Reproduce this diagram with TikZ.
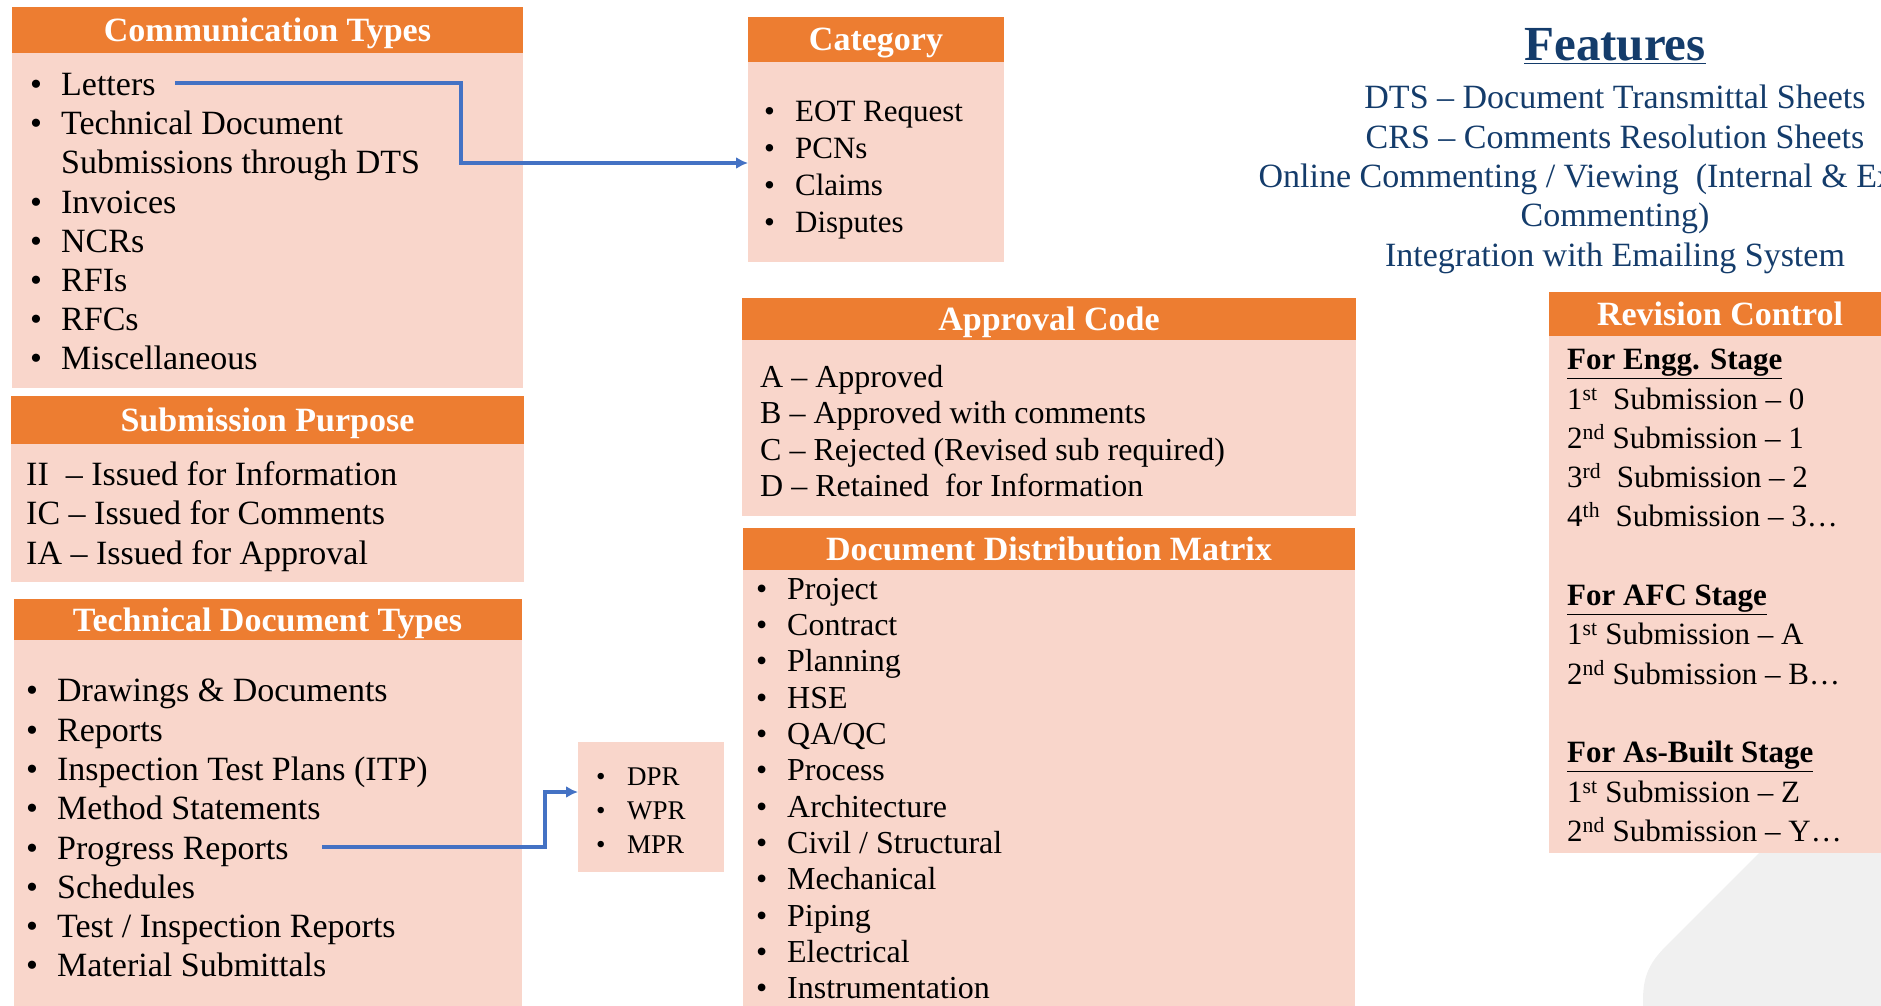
\documentclass[tikz,border=0pt]{standalone}
\usepackage{fontspec}
\setmainfont{Liberation Serif}
\usetikzlibrary{positioning, arrows.meta}

\definecolor{hdrorange}{HTML}{ED7D31}
\definecolor{bodypink}{HTML}{F9D6CB}
\definecolor{linkblue}{HTML}{4472C4}
\definecolor{featblue}{HTML}{143C6B}
\definecolor{bggrey}{HTML}{F0F0F0}

\newcommand{\itm}{\makebox[31pt][l]{\textbullet}}
\newcommand{\noitm}{\makebox[31pt][l]{}}

\begin{document}
\begin{tikzpicture}[
    x=1pt, y=-1pt,
    hdr/.style={rectangle, fill=hdrorange, text=white, inner sep=0pt, outer sep=0pt, text height=23pt, text depth=0pt, font=\fontsize{34}{40}\selectfont\bfseries},
    panel/.style={rectangle, fill=bodypink, inner sep=0pt, outer sep=0pt},
    list/.style={anchor=north west, align=left, inner sep=0pt, execute at begin node={\rule{0pt}{28pt}}},
    link/.style={-{Latex[length=12pt,width=12pt]}, draw=linkblue, line width=3.5pt}
]
    \clip (0,0) rectangle (1881,1006);

    % background shape
    \fill[bggrey] (1643,1010) -- (1643,1000) .. controls (1643,975) and (1650,962) .. (1667,945) -- (1800,812) -- (1890,812) -- (1890,1010) -- cycle;

    % Left column
    \node[hdr, minimum width=511pt, minimum height=46pt, anchor=north west] (ctHead) at (12,7) {Communication Types};
    \node[panel, minimum width=511pt, minimum height=335pt, below=0pt of ctHead] (ctBody) {};
    \node[list, font=\fontsize{34}{39.2}\selectfont] (ctList) at (30,73) {\itm Letters\\ \itm Technical Document\\ \noitm Submissions through DTS\\ \itm Invoices\\ \itm NCRs\\ \itm RFIs\\ \itm RFCs\\ \itm Miscellaneous};

    \node[hdr, minimum width=513pt, minimum height=48pt, below=8pt of ctBody] (spHead) {Submission Purpose};
    \node[panel, minimum width=513pt, minimum height=138pt, below=0pt of spHead] (spBody) {};
    \node[list, font=\fontsize{34}{39.5}\selectfont] (spList) at (26,461) {II\ \ – Issued for Information\\ IC – Issued for Comments\\ IA – Issued for Approval};

    \node[hdr, minimum width=508pt, minimum height=41pt, below=17pt of spBody] (tdHead) {Technical Document Types};
    \node[panel, minimum width=508pt, minimum height=370pt, below=0pt of tdHead] (tdBody) {};
    \node[list, font=\fontsize{34}{39.3}\selectfont] (tdList) at (26,679) {\itm Drawings \& Documents\\ \itm Reports\\ \itm Inspection Test Plans (ITP)\\ \itm Method Statements\\ \itm Progress Reports\\ \itm Schedules\\ \itm Test / Inspection Reports\\ \itm Material Submittals};

    \node[panel, minimum width=146pt, minimum height=130pt, anchor=north west] (prBody) at (578,742) {};
    \node[list, font=\fontsize{27}{33.6}\selectfont] (prList) at (596,768) {\itm DPR\\ \itm WPR\\ \itm MPR};

    % Middle column
    \node[hdr, minimum width=256pt, minimum height=45pt, anchor=north west] (catHead) at (748,17) {Category};
    \node[panel, minimum width=256pt, minimum height=200pt, below=0pt of catHead] (catBody) {};
    \node[list, font=\fontsize{31}{37}\selectfont] (catList) at (764,101) {\itm EOT Request\\ \itm PCNs\\ \itm Claims\\ \itm Disputes};

    \node[hdr, minimum width=614pt, minimum height=42pt, anchor=north west] (acHead) at (742,298) {Approval Code};
    \node[panel, minimum width=614pt, minimum height=176pt, below=0pt of acHead] (acBody) {};
    \node[list, font=\fontsize{32}{36.5}\selectfont] (acList) at (760,365) {A – Approved\\ B – Approved with comments\\ C – Rejected (Revised sub required)\\ D – Retained\ \ for Information};

    \node[hdr, minimum width=612pt, minimum height=42pt, below=12pt of acBody] (ddHead) {Document Distribution Matrix};
    \node[panel, minimum width=612pt, minimum height=440pt, below=0pt of ddHead] (ddBody) {};
    \node[list, font=\fontsize{32}{36.3}\selectfont] (ddList) at (756,578) {\itm Project\\ \itm Contract\\ \itm Planning\\ \itm HSE\\ \itm QA/QC\\ \itm Process\\ \itm Architecture\\ \itm Civil / Structural\\ \itm Mechanical\\ \itm Piping\\ \itm Electrical\\ \itm Instrumentation};

    % Right column
    \node[font=\fontsize{49}{55}\selectfont\bfseries, text=featblue, anchor=base] (featTitle) at (1615,61) {\underline{Features}};
    \node[anchor=north, align=center, inner sep=0pt, text=featblue, font=\fontsize{34}{39.4}\selectfont, execute at begin node={\rule{0pt}{28pt}}] (featList) at (1615,85) {DTS – Document Transmittal Sheets\\ CRS – Comments Resolution Sheets\\ Online Commenting / Viewing\ \ (Internal \& External\\ Commenting)\\ Integration with Emailing System};

    \node[hdr, minimum width=342pt, minimum height=44pt, anchor=north west] (rcHead) at (1549,292) {Revision Control};
    \node[panel, minimum width=342pt, minimum height=517pt, below=0pt of rcHead] (rcBody) {};
    \node[list, font=\fontsize{31}{39.3}\selectfont] (rcList) at (1567,349) {\underline{\textbf{For Engg. Stage}}\\ 1\textsuperscript{st}\ \ Submission – 0\\ 2\textsuperscript{nd} Submission – 1\\ 3\textsuperscript{rd}\ \ Submission – 2\\ 4\textsuperscript{th}\ \ Submission – 3…\\[39.3pt] \underline{\textbf{For AFC Stage}}\\ 1\textsuperscript{st} Submission – A\\ 2\textsuperscript{nd} Submission – B…\\[39.3pt] \underline{\textbf{For As-Built Stage}}\\ 1\textsuperscript{st} Submission – Z\\ 2\textsuperscript{nd} Submission – Y…};

    % Connections
    \coordinate (letEnd) at (175,83);
    \coordinate (jogA) at (461,163);
    \draw[link] (letEnd) -| (jogA) -- (jogA -| catBody.west);

    \coordinate (progEnd) at (322,847);
    \coordinate (jogB) at (545,792);
    \draw[link] (progEnd) -| (jogB) -- (jogB -| prBody.west);

\end{tikzpicture}
\end{document}
